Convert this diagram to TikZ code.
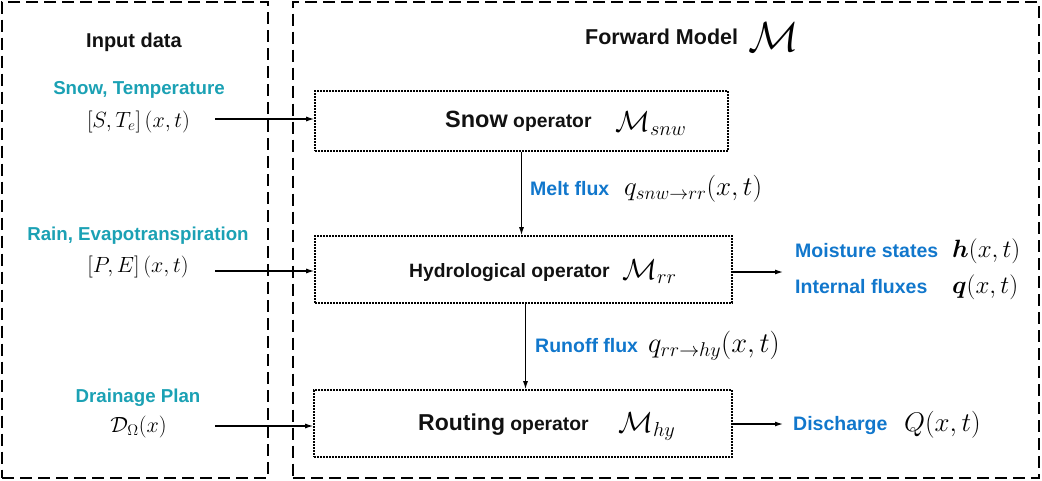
\RequirePackage{fix-cm}
\documentclass[tikz,border=0pt]{standalone}
\usepackage{amsmath,bm}
\usepackage{fontspec}
\setsansfont{Liberation Sans}
\usetikzlibrary{arrows.meta}
\definecolor{tealtxt}{RGB}{27,161,180}
\definecolor{bluetxt}{RGB}{17,119,204}
\definecolor{inktxt}{RGB}{17,17,17}
\newcommand{\fsz}[1]{\fontsize{#1}{#1}\selectfont}
\begin{document}
\begin{tikzpicture}[x=1pt,y=-1pt,
  outerbox/.style={draw, line width=2pt, dash pattern=on 12pt off 6pt, inner sep=0},
  opbox/.style={draw, line width=1.6pt, dash pattern=on 1.6pt off 1.4pt, inner sep=0},
  arr/.style={line width=1.2pt, -{Latex[length=8pt,width=5pt]}},
  tlab/.style={inner sep=0, anchor=base, text=tealtxt, font=\sffamily\bfseries\fsz{18.7}},
  blab/.style={inner sep=0, anchor=base west, text=bluetxt, font=\sffamily\bfseries\fsz{19.5}},
  head/.style={inner sep=0, anchor=base, text=inktxt, font=\sffamily\bfseries\fsz{20}},
  optxt/.style={inner sep=0, anchor=base west, text=inktxt, font=\sffamily\bfseries\fsz{19.3}},
  inmath/.style={inner sep=0, anchor=base, font=\fsz{22}},
  opmath/.style={inner sep=0, anchor=base west, font=\fsz{29}},
  fluxmath/.style={inner sep=0, anchor=base west, font=\fsz{27}},
  outmath/.style={inner sep=0, anchor=base west, font=\fsz{25}}
]
\useasboundingbox (0,0) rectangle (1042,480);
% outer dashed boxes
\node[outerbox, minimum width=266pt, minimum height=476pt] (inbox) at (135,239.5) {};
\node[outerbox, minimum width=746pt, minimum height=476pt] (fwbox) at (666,239.5) {};
% headings
\node[head] (inhead) at (134,47) {Input data};
\node[head, anchor=base west, font=\sffamily\bfseries\fsz{21.5}] (fwhead) at (585,44) {Forward Model};
\node[inner sep=0, anchor=base west, font=\fsz{42}] (fwM) at (748,51) {$\mathcal{M}$};
% inputs
\node[tlab] (snowlab) at (139,94) {Snow, Temperature};
\node[inmath] (snowin) at (138.5,127) {$\left[S,T_e\right](x,t)$};
\node[tlab] (rainlab) at (138,240) {Rain, Evapotranspiration};
\node[inmath] (rainin) at (138,272) {$\left[P,E\right](x,t)$};
\node[tlab] (drainlab) at (138,402) {Drainage Plan};
\node[inmath] (drainin) at (138.5,432) {$\mathcal{D}_{\Omega}(x)$};
% operator boxes
\node[opbox, minimum width=413pt, minimum height=60pt] (snow) at (521.5,121) {};
\node[opbox, minimum width=417pt, minimum height=67pt] (hydro) at (523.5,269.5) {};
\node[opbox, minimum width=418pt, minimum height=67pt] (route) at (523,423.5) {};
% operator texts
\node[optxt] (snowt) at (445,127) {{\fsz{23.5}Snow} operator};
\node[opmath] (snowm) at (615,131) {$\mathcal{M}_{snw}$};
\node[optxt] (hydrot) at (409,277) {Hydrological operator};
\node[opmath] (hydrom) at (622,279) {$\mathcal{M}_{rr}$};
\node[optxt] (routet) at (418,430) {{\fsz{23}Routing} operator};
\node[opmath] (routem) at (618,432) {$\mathcal{M}_{hy}$};
% fluxes
\node[blab] (meltl) at (530,195) {Melt flux};
\node[fluxmath] (meltm) at (624,195) {$q_{snw\rightarrow rr}(x,t)$};
\node[blab] (runl) at (535,352) {Runoff flux};
\node[fluxmath, font=\fsz{28.5}] (runm) at (648,352) {$q_{rr\rightarrow hy}(x,t)$};
% outputs
\node[blab] (moistl) at (795,257) {Moisture states};
\node[outmath] (moistm) at (952,257) {$\bm{h}(x,t)$};
\node[blab] (intl) at (795,293) {Internal fluxes};
\node[outmath] (intm) at (952,293) {$\bm{q}(x,t)$};
\node[blab] (disl) at (793,430) {Discharge};
\node[outmath, font=\fsz{27}] (dism) at (904,431) {$Q(x,t)$};
% connectors
\coordinate (in1) at (215,119);
\coordinate (in2) at (215,271);
\coordinate (in3) at (215,426);
\draw[arr] (in1) -- (in1 -| snow.west);
\draw[arr] (in2) -- (in2 -| hydro.west);
\draw[arr] (in3) -- (in3 -| route.west);
\draw[arr] (snow.south) -- (snow.south |- hydro.north);
\coordinate (rf) at (525.5,303);
\draw[arr] (rf |- hydro.south) -- (rf |- route.north);
\coordinate (o1) at (783,272);
\coordinate (o2) at (783,424);
\draw[arr] (o1 -| hydro.east) -- (o1);
\draw[arr] (o2 -| route.east) -- (o2);
\end{tikzpicture}
\end{document}
